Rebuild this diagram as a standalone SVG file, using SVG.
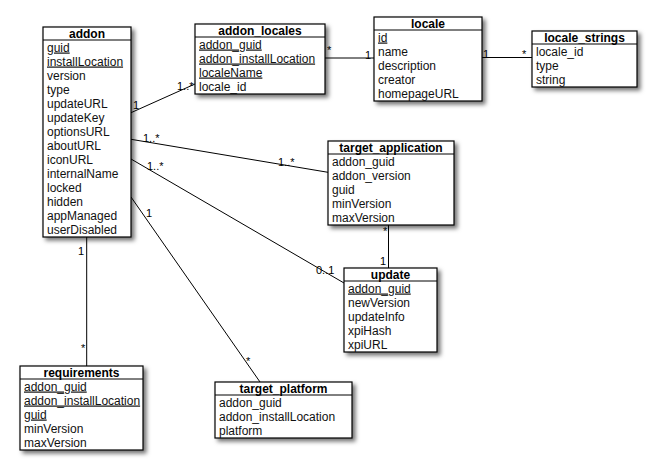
<svg xmlns="http://www.w3.org/2000/svg" width="651" height="471" viewBox="0 0 651 471">
<defs>
<filter id="sh" x="-10%" y="-10%" width="130%" height="130%">
<feDropShadow dx="3" dy="3" stdDeviation="2" flood-color="#000" flood-opacity="0.55"/>
</filter>
</defs>
<style>
.box{fill:#fff;stroke:#000;stroke-width:1.2;filter:url(#sh)}
.hl{stroke:#000;stroke-width:1}
.t{font-family:"Liberation Sans",Arial,sans-serif;font-size:12px;font-weight:bold;fill:#000;text-anchor:middle}
.r{font-family:"Liberation Sans",Arial,sans-serif;font-size:12px;fill:#111}
.u{text-decoration:underline}
.c{stroke:#000;stroke-width:1;fill:none}
.l{font-family:"Liberation Sans",Arial,sans-serif;font-size:11px;fill:#000}
</style>
<rect width="651" height="471" fill="#fff"/>
<g id="connectors">
<line class="c" x1="131" y1="112.7" x2="195" y2="84"/>
<line class="c" x1="325" y1="58" x2="374" y2="58"/>
<line class="c" x1="482" y1="57.5" x2="532" y2="57.5"/>
<line class="c" x1="131" y1="139.3" x2="328" y2="172.3"/>
<line class="c" x1="131" y1="159" x2="344" y2="283"/>
<line class="c" x1="131" y1="197" x2="260" y2="382"/>
<line class="c" x1="86.7" y1="237" x2="86.7" y2="366"/>
<line class="c" x1="388.5" y1="225" x2="388.5" y2="268"/>
<text class="l" x="133" y="109">1</text>
<text class="l" x="177" y="90">1..*</text>
<text class="l" x="327" y="54">*</text>
<text class="l" x="365" y="59">1</text>
<text class="l" x="483" y="58">1</text>
<text class="l" x="522" y="58">*</text>
<text class="l" x="143" y="142">1..*</text>
<text class="l" x="278" y="166">1..*</text>
<text class="l" x="147" y="170">1..*</text>
<text class="l" x="316" y="274">0..1</text>
<text class="l" x="146" y="217">1</text>
<text class="l" x="246" y="365">*</text>
<text class="l" x="78" y="254.5">1</text>
<text class="l" x="81" y="352">*</text>
<text class="l" x="380" y="265">1</text>
</g>
<g id="addon">
<rect class="box" x="43" y="27" width="88" height="210"/>
<line class="hl" x1="43" y1="40" x2="131" y2="40"/>
<text class="t" x="87" y="37.5">addon</text>
<text class="r u" x="47" y="51.5">guid</text>
<text class="r u" x="47" y="65.5">installLocation</text>
<text class="r" x="47" y="79.5">version</text>
<text class="r" x="47" y="93.5">type</text>
<text class="r" x="47" y="107.5">updateURL</text>
<text class="r" x="47" y="121.5">updateKey</text>
<text class="r" x="47" y="135.5">optionsURL</text>
<text class="r" x="47" y="149.5">aboutURL</text>
<text class="r" x="47" y="163.5">iconURL</text>
<text class="r" x="47" y="177.5">internalName</text>
<text class="r" x="47" y="191.5">locked</text>
<text class="r" x="47" y="205.5">hidden</text>
<text class="r" x="47" y="219.5">appManaged</text>
<text class="r" x="47" y="233.5">userDisabled</text>
</g>
<g id="addon_locales">
<rect class="box" x="195" y="24" width="130" height="70"/>
<line class="hl" x1="195" y1="37" x2="325" y2="37"/>
<text class="t" x="260" y="34.5">addon_locales</text>
<text class="r u" x="199" y="48.5">addon_guid</text>
<text class="r u" x="199" y="62.5">addon_installLocation</text>
<text class="r u" x="199" y="76.5">localeName</text>
<text class="r" x="199" y="90.5">locale_id</text>
</g>
<g id="locale">
<rect class="box" x="374" y="17" width="108" height="84"/>
<line class="hl" x1="374" y1="30" x2="482" y2="30"/>
<text class="t" x="428" y="27.5">locale</text>
<text class="r u" x="378" y="41.5">id</text>
<text class="r" x="378" y="55.5">name</text>
<text class="r" x="378" y="69.5">description</text>
<text class="r" x="378" y="83.5">creator</text>
<text class="r" x="378" y="97.5">homepageURL</text>
</g>
<g id="locale_strings">
<rect class="box" x="532" y="31" width="105" height="56"/>
<line class="hl" x1="532" y1="44" x2="637" y2="44"/>
<text class="t" x="584.5" y="41.5">locale_strings</text>
<text class="r" x="536" y="55.5">locale_id</text>
<text class="r" x="536" y="69.5">type</text>
<text class="r" x="536" y="83.5">string</text>
</g>
<g id="target_application">
<rect class="box" x="328" y="141" width="126" height="84"/>
<line class="hl" x1="328" y1="154" x2="454" y2="154"/>
<text class="t" x="391" y="151.5">target_application</text>
<text class="r" x="332" y="165.5">addon_guid</text>
<text class="r" x="332" y="179.5">addon_version</text>
<text class="r" x="332" y="193.5">guid</text>
<text class="r" x="332" y="207.5">minVersion</text>
<text class="r" x="332" y="221.5">maxVersion</text>
</g>
<g id="update">
<rect class="box" x="344" y="268" width="93" height="84"/>
<line class="hl" x1="344" y1="281" x2="437" y2="281"/>
<text class="t" x="390.5" y="278.5">update</text>
<text class="r u" x="348" y="292.5">addon_guid</text>
<text class="r" x="348" y="306.5">newVersion</text>
<text class="r" x="348" y="320.5">updateInfo</text>
<text class="r" x="348" y="334.5">xpiHash</text>
<text class="r" x="348" y="348.5">xpiURL</text>
</g>
<g id="requirements">
<rect class="box" x="20" y="366" width="123" height="84"/>
<line class="hl" x1="20" y1="379" x2="143" y2="379"/>
<text class="t" x="81.5" y="376.5">requirements</text>
<text class="r u" x="24" y="390.5">addon_guid</text>
<text class="r u" x="24" y="404.5">addon_installLocation</text>
<text class="r u" x="24" y="418.5">guid</text>
<text class="r" x="24" y="432.5">minVersion</text>
<text class="r" x="24" y="446.5">maxVersion</text>
</g>
<g id="target_platform">
<rect class="box" x="215" y="382" width="137" height="56"/>
<line class="hl" x1="215" y1="395" x2="352" y2="395"/>
<text class="t" x="283.5" y="392.5">target_platform</text>
<text class="r" x="219" y="406.5">addon_guid</text>
<text class="r" x="219" y="420.5">addon_installLocation</text>
<text class="r" x="219" y="434.5">platform</text>
</g>
<g id="labels-top">
<text class="l" x="383" y="234.5">*</text>
</g>
</svg>
